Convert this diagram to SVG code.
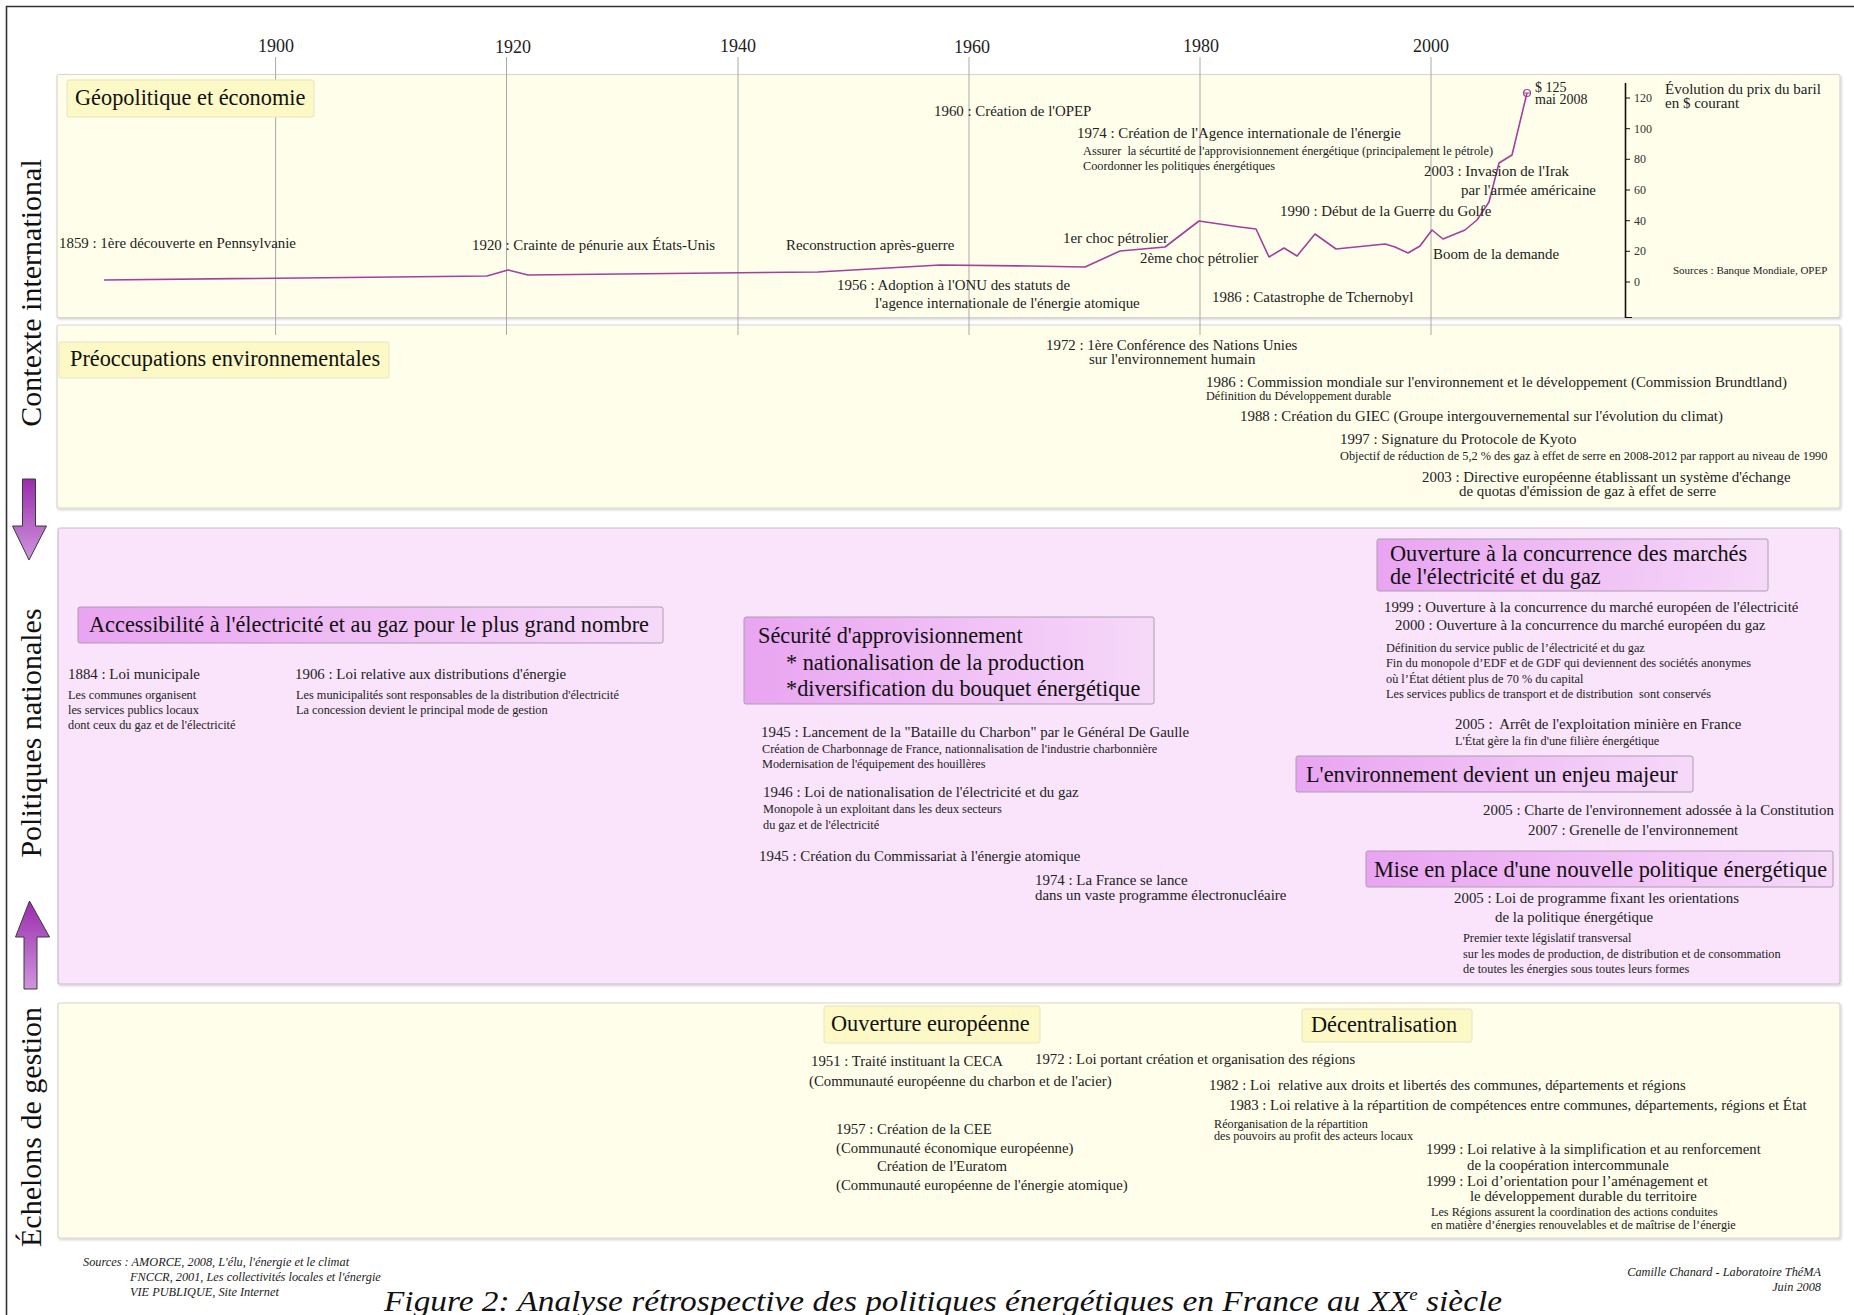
<svg xmlns="http://www.w3.org/2000/svg" width="1854" height="1315" viewBox="0 0 1854 1315">
<defs>
<style>
text{font-family:"Liberation Serif","Times New Roman",serif;fill:#222}
.yr{font-size:18px;text-anchor:middle}
.t14{font-size:14.9px}
.t13{font-size:14.8px}
.s{font-size:12.3px}
.s10{font-size:12.2px}
.lab{font-size:22.3px;fill:#111}
.side{font-size:30px;text-anchor:middle;fill:#111}
.ax{font-size:12px;fill:#333}
.it{font-style:italic;font-size:12.3px}
.pre{white-space:pre}
.band-y{fill:#fefeea;stroke:#d6d6d0;stroke-width:1.2}
.band-p{fill:#f9e4fb;stroke:#c9bfca;stroke-width:1.2}
.box-y{fill:#fcf9c6;stroke:#e6e4c4;stroke-width:1}
.box-p{fill:url(#gp);stroke:#ad9cb0;stroke-width:1}
.grid{stroke:#a9a9a9;stroke-width:1}
.arrow{fill:url(#ga);stroke:#3a3a3a;stroke-width:1}
</style>
<linearGradient id="gp" x1="0" y1="0" x2="1" y2="0">
<stop offset="0" stop-color="#e9a4f1"/>
<stop offset="1" stop-color="#f6d9f9"/>
</linearGradient>
<linearGradient id="ga" x1="0" y1="0" x2="0" y2="1">
<stop offset="0" stop-color="#9a2cae"/>
<stop offset="1" stop-color="#cf95dc"/>
</linearGradient>
<filter id="sh" x="-2%" y="-5%" width="104%" height="112%">
<feDropShadow dx="1" dy="1.5" stdDeviation="1.2" flood-color="#000" flood-opacity="0.18"/>
</filter>
</defs>

<rect width="1854" height="1315" fill="#ffffff"/>
<path d="M6.5,1315 V6.5 H1854" fill="none" stroke="#333" stroke-width="1.6"/>

<!-- Bands -->
<g id="band-geopolitique"><rect class="band-y" x="57" y="74.5" width="1783" height="243" rx="2" filter="url(#sh)"/></g>
<g id="band-environnement"><rect class="band-y" x="57" y="325" width="1783" height="183" rx="2" filter="url(#sh)"/></g>
<g id="band-politiques"><rect class="band-p" x="58" y="528" width="1782" height="456" rx="2" filter="url(#sh)"/></g>
<g id="band-gestion"><rect class="band-y" x="58" y="1003" width="1782" height="235" rx="2" filter="url(#sh)"/></g>

<!-- Time axis -->
<g id="time-axis">
<text class="yr" x="276" y="52">1900</text>
<text class="yr" x="513" y="53">1920</text>
<text class="yr" x="738" y="52">1940</text>
<text class="yr" x="972" y="53">1960</text>
<text class="yr" x="1201" y="52">1980</text>
<text class="yr" x="1431" y="52">2000</text>
<line class="grid" x1="275.6" y1="57" x2="275.6" y2="335"/>
<line class="grid" x1="506.5" y1="57" x2="506.5" y2="335"/>
<line class="grid" x1="738" y1="57" x2="738" y2="335"/>
<line class="grid" x1="969" y1="57" x2="969" y2="335"/>
<line class="grid" x1="1200" y1="57" x2="1200" y2="335"/>
<line class="grid" x1="1431" y1="57" x2="1431" y2="335"/>
</g>

<!-- Side labels -->
<g id="label-contexte"><text class="side" transform="translate(41,293) rotate(-90)">Contexte international</text></g>
<g id="label-politiques"><text class="side" transform="translate(41,733) rotate(-90)">Politiques nationales</text></g>
<g id="label-echelons"><text class="side" transform="translate(41,1127) rotate(-90)">Échelons de gestion</text></g>

<!-- Block arrows -->
<g id="connectors">
<path class="arrow" d="M22.5,479 H35.5 V526 H46.5 L29,560 L12.5,526 H22.5 Z"/>
<path class="arrow" d="M29.5,901 L49.5,937 H37 V989 H24 V937 H15.5 Z"/>
</g>

<!-- Geopolitique -->
<g id="title-geopolitique">
<rect class="box-y" x="67" y="80" width="247" height="37" rx="2"/>
<text class="lab" x="75" y="105">Géopolitique et économie</text>
</g>

<g id="price-chart">
<polyline fill="none" stroke="#a2409c" stroke-width="1.6" stroke-linejoin="round" points="104,280 487,276 508,270 528,275 620,274 818,272 940,265 1029,266 1085,267 1120,251 1165,247 1199,221 1240,227 1256,229 1269,257 1284,248 1297,256 1315,234 1336,249 1385,244 1395,247 1408,253 1420,246 1432,230 1443,239 1465,230 1477,220 1489,202 1499,163 1512,155 1527,93"/>
<circle cx="1527" cy="93" r="3.5" fill="none" stroke="#a2409c" stroke-width="1.2"/>
<line x1="1523" y1="93" x2="1531" y2="93" stroke="#a2409c" stroke-width="1"/>
<text style="font-size:14px" x="1535" y="92">$ 125</text>
<text style="font-size:14px" x="1535" y="104">mai 2008</text>
<line x1="1625.5" y1="83" x2="1625.5" y2="318" stroke="#111" stroke-width="1.6"/>
<g stroke="#111" stroke-width="1">
<line x1="1625.5" y1="98" x2="1630" y2="98"/>
<line x1="1625.5" y1="128.7" x2="1630" y2="128.7"/>
<line x1="1625.5" y1="159.3" x2="1630" y2="159.3"/>
<line x1="1625.5" y1="190" x2="1630" y2="190"/>
<line x1="1625.5" y1="220.7" x2="1630" y2="220.7"/>
<line x1="1625.5" y1="251.3" x2="1630" y2="251.3"/>
<line x1="1625.5" y1="282" x2="1630" y2="282"/>
<line x1="1625.5" y1="317.5" x2="1632" y2="317.5"/>
</g>
<text class="ax" x="1634" y="102">120</text>
<text class="ax" x="1634" y="133">100</text>
<text class="ax" x="1634" y="163">80</text>
<text class="ax" x="1634" y="194">60</text>
<text class="ax" x="1634" y="225">40</text>
<text class="ax" x="1634" y="255">20</text>
<text class="ax" x="1634" y="286">0</text>
<text style="font-size:15px" x="1665" y="94">Évolution du prix du baril</text>
<text style="font-size:15px" x="1665" y="108">en $ courant</text>
<text style="font-size:11px" x="1673" y="274">Sources : Banque Mondiale, OPEP</text>
</g>

<g id="ev-1859"><text class="t14" x="59" y="248">1859 : 1ère découverte en Pennsylvanie</text></g>
<g id="ev-1920"><text class="t14" x="472" y="250">1920 : Crainte de pénurie aux États-Unis</text></g>
<g id="ev-reconstruction"><text class="t14" x="786" y="250">Reconstruction après-guerre</text></g>
<g id="ev-1960"><text class="t14" x="934" y="116">1960 : Création de l'OPEP</text></g>
<g id="ev-1974-aie">
<text class="t14" x="1077" y="138">1974 : Création de l'Agence internationale de l'énergie</text>
<text class="s pre" x="1083" y="155">Assurer  la sécurtité de l'approvisionnement énergétique (principalement le pétrole)</text>
<text class="s" x="1083" y="170">Coordonner les politiques énergétiques</text>
</g>
<g id="ev-choc1"><text class="t14" x="1063" y="243">1er choc pétrolier</text></g>
<g id="ev-choc2"><text class="t14" x="1140" y="263">2ème choc pétrolier</text></g>
<g id="ev-1956">
<text class="t14" x="837" y="290">1956 : Adoption à l'ONU des statuts de</text>
<text class="t14" x="875" y="308">l'agence internationale de l'énergie atomique</text>
</g>
<g id="ev-1986-tchernobyl"><text class="t14" x="1212" y="302">1986 : Catastrophe de Tchernobyl</text></g>
<g id="ev-1990"><text class="t14" x="1280" y="216">1990 : Début de la Guerre du Golfe</text></g>
<g id="ev-2003-irak">
<text class="t14" x="1424" y="176">2003 : Invasion de l'Irak</text>
<text class="t14" x="1461" y="195">par l'armée américaine</text>
</g>
<g id="ev-boom"><text class="t14" x="1433" y="259">Boom de la demande</text></g>

<!-- Environnement -->
<g id="title-environnement">
<rect class="box-y" x="59" y="342" width="330" height="36" rx="2"/>
<text class="lab" x="70" y="366">Préoccupations environnementales</text>
</g>
<g id="ev-1972-onu">
<text class="t14" x="1046" y="350">1972 : 1ère Conférence des Nations Unies</text>
<text class="t14" x="1089" y="364">sur l'environnement humain</text>
</g>
<g id="ev-1986-brundtland">
<text class="t14" x="1206" y="387">1986 : Commission mondiale sur l'environnement et le développement (Commission Brundtland)</text>
<text class="s10" x="1206" y="400">Définition du Développement durable</text>
</g>
<g id="ev-1988-giec"><text class="t14" x="1240" y="421">1988 : Création du GIEC (Groupe intergouvernemental sur l'évolution du climat)</text></g>
<g id="ev-1997-kyoto">
<text class="t14" x="1340" y="444">1997 : Signature du Protocole de Kyoto</text>
<text class="s" x="1340" y="460">Objectif de réduction de 5,2 % des gaz à effet de serre en 2008-2012 par rapport au niveau de 1990</text>
</g>
<g id="ev-2003-quotas">
<text class="t14" x="1422" y="482">2003 : Directive européenne établissant un système d'échange</text>
<text class="t14" x="1459" y="496">de quotas d'émission de gaz à effet de serre</text>
</g>

<!-- Politiques nationales -->
<g id="title-accessibilite">
<rect class="box-p" x="78" y="607" width="585" height="36" rx="2"/>
<text class="lab" x="89" y="632">Accessibilité à l'électricité et au gaz pour le plus grand nombre</text>
</g>
<g id="ev-1884">
<text class="t14" x="68" y="679">1884 : Loi municipale</text>
<text class="s" x="68" y="699">Les communes organisent</text>
<text class="s" x="68" y="714">les services publics locaux</text>
<text class="s" x="68" y="729">dont ceux du gaz et de l'électricité</text>
</g>
<g id="ev-1906">
<text class="t14" x="295" y="679">1906 : Loi relative aux distributions d'énergie</text>
<text class="s" x="296" y="699">Les municipalités sont responsables de la distribution d'électricité</text>
<text class="s" x="296" y="714">La concession devient le principal mode de gestion</text>
</g>

<g id="title-securite">
<rect class="box-p" x="744" y="617" width="410" height="87" rx="2"/>
<text class="lab" x="758" y="643">Sécurité d'approvisionnement</text>
<text class="lab" x="786" y="670">* nationalisation de la production</text>
<text class="lab" x="786" y="696">*diversification du bouquet énergétique</text>
</g>
<g id="ev-1945-charbon">
<text class="t14" x="761" y="737">1945 : Lancement de la "Bataille du Charbon" par le Général De Gaulle</text>
<text class="s" x="762" y="753">Création de Charbonnage de France, nationnalisation de l'industrie charbonnière</text>
<text class="s" x="762" y="768">Modernisation de l'équipement des houillères</text>
</g>
<g id="ev-1946">
<text class="t14" x="763" y="797">1946 : Loi de nationalisation de l'électricité et du gaz</text>
<text class="s" x="763" y="813">Monopole à un exploitant dans les deux secteurs</text>
<text class="s" x="763" y="829">du gaz et de l'électricité</text>
</g>
<g id="ev-1945-cea"><text class="t14" x="759" y="861">1945 : Création du Commissariat à l'énergie atomique</text></g>
<g id="ev-1974-nucleaire">
<text class="t14" x="1035" y="885">1974 : La France se lance</text>
<text class="t14" x="1035" y="900">dans un vaste programme électronucléaire</text>
</g>

<g id="title-ouverture-concurrence">
<rect class="box-p" x="1377" y="539" width="391" height="52" rx="2"/>
<text class="lab" x="1390" y="561">Ouverture à la concurrence des marchés</text>
<text class="lab" x="1390" y="584">de l'électricité et du gaz</text>
</g>
<g id="ev-1999-2000">
<text class="t14" x="1384" y="612">1999 : Ouverture à la concurrence du marché européen de l'électricité</text>
<text class="t14" x="1395" y="630">2000 : Ouverture à la concurrence du marché européen du gaz</text>
<text class="s" x="1386" y="652">Définition du service public de l’électricité et du gaz</text>
<text class="s" x="1386" y="667">Fin du monopole d’EDF et de GDF qui deviennent des sociétés anonymes</text>
<text class="s" x="1386" y="683">où l’État détient plus de 70 % du capital</text>
<text class="s pre" x="1386" y="698">Les services publics de transport et de distribution  sont conservés</text>
</g>
<g id="ev-2005-mines">
<text class="t14 pre" x="1455" y="729">2005 :  Arrêt de l'exploitation minière en France</text>
<text class="s" x="1455" y="745">L'État gère la fin d'une filière énergétique</text>
</g>

<g id="title-environnement-enjeu">
<rect class="box-p" x="1296" y="756" width="397" height="36" rx="2"/>
<text class="lab" x="1306" y="782">L'environnement devient un enjeu majeur</text>
</g>
<g id="ev-2005-charte">
<text class="t14" x="1483" y="815">2005 : Charte de l'environnement adossée à la Constitution</text>
<text class="t14" x="1528" y="835">2007 : Grenelle de l'environnement</text>
</g>

<g id="title-nouvelle-politique">
<rect class="box-p" x="1366" y="851" width="467" height="36" rx="2"/>
<text class="lab" x="1374" y="877">Mise en place d'une nouvelle politique énergétique</text>
</g>
<g id="ev-2005-loi-programme">
<text class="t14" x="1454" y="903">2005 : Loi de programme fixant les orientations</text>
<text class="t14" x="1495" y="922">de la politique énergétique</text>
<text class="s" x="1463" y="942">Premier texte législatif transversal</text>
<text class="s" x="1463" y="958">sur les modes de production, de distribution et de consommation</text>
<text class="s" x="1463" y="973">de toutes les énergies sous toutes leurs formes</text>
</g>

<!-- Echelons de gestion -->
<g id="title-ouverture-europeenne">
<rect class="box-y" x="824" y="1006" width="216" height="37" rx="2"/>
<text class="lab" x="831" y="1031">Ouverture européenne</text>
</g>
<g id="title-decentralisation">
<rect class="box-y" x="1302" y="1009" width="170" height="33" rx="2"/>
<text class="lab" x="1311" y="1032">Décentralisation</text>
</g>
<g id="ev-1951">
<text class="t13" x="811" y="1066">1951 : Traité instituant la CECA</text>
<text class="t13" x="809" y="1086">(Communauté européenne du charbon et de l'acier)</text>
</g>
<g id="ev-1957">
<text class="t13" x="836" y="1134">1957 : Création de la CEE</text>
<text class="t13" x="836" y="1153">(Communauté économique européenne)</text>
<text class="t13" x="877" y="1171">Création de l'Euratom</text>
<text class="t13" x="836" y="1190">(Communauté européenne de l'énergie atomique)</text>
</g>
<g id="ev-1972-regions"><text class="t13" x="1035" y="1064">1972 : Loi portant création et organisation des régions</text></g>
<g id="ev-1982"><text class="t13 pre" x="1209" y="1090">1982 : Loi  relative aux droits et libertés des communes, départements et régions</text></g>
<g id="ev-1983">
<text class="t13" x="1229" y="1110">1983 : Loi relative à la répartition de compétences entre communes, départements, régions et État</text>
<text class="s10" x="1214" y="1128">Réorganisation de la répartition</text>
<text class="s10" x="1214" y="1140">des pouvoirs au profit des acteurs locaux</text>
</g>
<g id="ev-1999-loi">
<text class="t13" x="1426" y="1154">1999 : Loi relative à la simplification et au renforcement</text>
<text class="t13" x="1467" y="1170">de la coopération intercommunale</text>
<text class="t13" x="1426" y="1186">1999 : Loi d’orientation pour l’aménagement et</text>
<text class="t13" x="1470" y="1201">le développement durable du territoire</text>
<text class="s10" x="1431" y="1216">Les Régions assurent la coordination des actions conduites</text>
<text class="s10" x="1431" y="1229">en matière d’énergies renouvelables et de maîtrise de l’énergie</text>
</g>

<!-- Footer -->
<g id="sources">
<text class="it" x="83" y="1266">Sources : AMORCE, 2008, L'élu, l'énergie et le climat</text>
<text class="it" x="130" y="1281">FNCCR, 2001, Les collectivités locales et l'énergie</text>
<text class="it" x="130" y="1296">VIE PUBLIQUE, Site Internet</text>
</g>
<g id="credits">
<text class="it" x="1821" y="1276" text-anchor="end">Camille Chanard - Laboratoire ThéMA</text>
<text class="it" x="1821" y="1291" text-anchor="end">Juin 2008</text>
</g>
<g id="figure-title">
<text x="384" y="1311" style="font-style:italic;font-size:30px;fill:#111" textLength="1118" lengthAdjust="spacingAndGlyphs">Figure 2: Analyse rétrospective des politiques énergétiques en France au XX<tspan dy="-11" style="font-size:17px">e</tspan><tspan dy="11"> siècle</tspan></text>
</g>
</svg>
